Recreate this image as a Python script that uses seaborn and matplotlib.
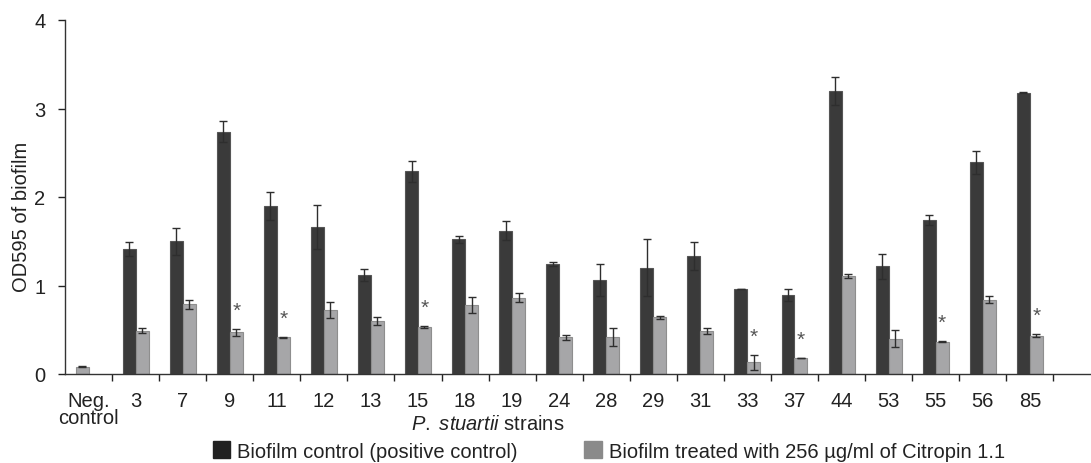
import numpy as np
import pandas as pd
import seaborn as sns
import matplotlib.pyplot as plt
from matplotlib.patches import Patch

strains = ["Neg.\ncontrol", "3", "7", "9", "11", "12", "13", "15", "18", "19", "24",
           "28", "29", "31", "33", "37", "44", "53", "55", "56", "85"]
# positive control (the Neg. control value sits in this slot, drawn grey)
control = [0.083, 1.41, 1.50, 2.74, 1.90, 1.66, 1.12, 2.29, 1.52, 1.62, 1.245,
           1.06, 1.20, 1.33, 0.96, 0.89, 3.20, 1.215, 1.74, 2.39, 3.18]
control_err = [0.005, 0.08, 0.15, 0.12, 0.16, 0.25, 0.07, 0.12, 0.04, 0.11, 0.025,
               0.18, 0.32, 0.16, 0.0, 0.065, 0.155, 0.14, 0.06, 0.13, 0.005]
treated = [np.nan, 0.49, 0.79, 0.47, 0.415, 0.725, 0.60, 0.53, 0.78, 0.86, 0.415,
           0.42, 0.64, 0.49, 0.13, 0.18, 1.105, 0.40, 0.366, 0.84, 0.434]
treated_err = [np.nan, 0.03, 0.05, 0.04, 0.005, 0.09, 0.045, 0.01, 0.09, 0.05, 0.03,
               0.10, 0.02, 0.035, 0.087, 0.0, 0.025, 0.10, 0.005, 0.04, 0.015]
significant = ["9", "11", "15", "33", "37", "55", "85"]

lab_c = "Biofilm control (positive control)"
lab_t = "Biofilm treated with 256 \u00b5g/ml of Citropin 1.1"

dark = "#3a3a3a"
grey = "#a6a6a8"
txt = "#222222"
fs = 14.5

n = len(strains)
df = pd.DataFrame({
    "strain": strains * 2,
    "series": [lab_c] * n + [lab_t] * n,
    "od": control + treated,
})

sns.set_style("ticks")
plt.rcParams['font.family'] = ['Liberation Sans', 'DejaVu Sans']
plt.rcParams['mathtext.fontset'] = 'custom'
plt.rcParams['mathtext.rm'] = 'Liberation Sans'
plt.rcParams['mathtext.it'] = 'Liberation Sans:italic'
plt.rcParams['text.color'] = txt
plt.rcParams['axes.labelcolor'] = txt
plt.rcParams['xtick.color'] = txt
plt.rcParams['ytick.color'] = txt

fig = plt.figure(figsize=(10.91, 4.64), dpi=100)
ax = fig.add_axes([65 / 1091, 89 / 464, 1 - 65 / 1091, 354 / 464])

sns.barplot(data=df, x="strain", y="od", hue="series", order=strains,
            hue_order=[lab_c, lab_t], palette=[dark, grey], width=0.55,
            errorbar=None, legend=False, ax=ax, saturation=1)

edges = ["#555555", "#8e8e8e"]
for cont, errs, ec in zip(ax.containers, [control_err, treated_err], edges):
    xs, ys, es = [], [], []
    for bar in cont:
        i = int(round(bar.get_x() + bar.get_width() / 2))
        bar.set_edgecolor(ec)
        bar.set_linewidth(0.8)
        if i == 0:
            bar.set_facecolor(grey)
            bar.set_edgecolor(edges[1])
        xs.append(bar.get_x() + bar.get_width() / 2)
        ys.append(bar.get_height())
        es.append(errs[i])
    ax.errorbar(xs, ys, yerr=es, fmt="none", ecolor="#2e2e2e", elinewidth=1,
                capsize=3, capthick=1)

# significance stars above treated bars
for bar in ax.containers[1]:
    i = int(round(bar.get_x() + bar.get_width() / 2))
    if strains[i] in significant:
        ax.text(bar.get_x() + bar.get_width() / 2,
                treated[i] + treated_err[i] + 0.15, "*",
                ha="center", va="baseline", fontsize=15, color="#555555")

ax.set_ylim(0, 4)
ax.set_xlim(-0.5, 21.3)
ax.set_yticks([0, 1, 2, 3, 4])
ax.set_xticks(range(n), strains)
ax.set_xticks(np.arange(0.5, n, 1), minor=True)
ax.tick_params(axis="x", which="major", length=0, pad=12, labelsize=fs)
ax.tick_params(axis="x", which="minor", length=5, width=1, direction="out")
ax.tick_params(axis="y", length=5, width=1, pad=9, labelsize=fs)
for lab in ax.get_xticklabels():
    lab.set_linespacing(0.9)

sns.despine(ax=ax)
for s in ["left", "bottom"]:
    ax.spines[s].set_color("#333333")
    ax.spines[s].set_linewidth(1)

ax.set_ylabel("OD595 of biofilm", fontsize=fs, va="center")
ax.yaxis.set_label_coords(-0.042, 0.446)
ax.set_xlabel("$\\it{P.\\ stuartii}$ strains", fontsize=fs, va="center")
ax.xaxis.set_label_coords(0.412, -0.141)

handles = [Patch(facecolor="#222222", edgecolor="#222222"),
           Patch(facecolor="#8a8a8a", edgecolor="#8a8a8a")]
fig.legend(handles, [lab_c, lab_t], loc="center", ncol=2, frameon=False,
           bbox_to_anchor=(609 / 1091, 12 / 464), fontsize=fs,
           handlelength=0.85, handleheight=0.85, handletextpad=0.35,
           columnspacing=3.3, borderpad=0)

fig.savefig("out.png", dpi=100)
